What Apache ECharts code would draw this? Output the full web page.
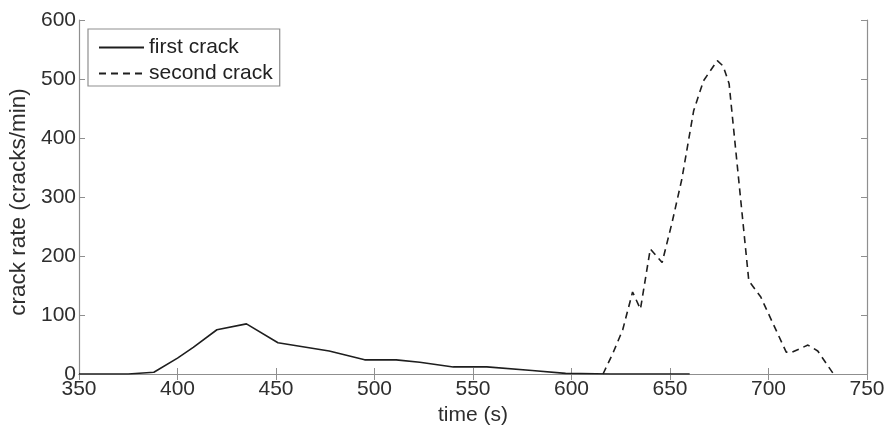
<!DOCTYPE html>
<html><head><meta charset="utf-8">
<script src="https://cdn.jsdelivr.net/npm/echarts@6/dist/echarts.min.js"></script>
<style>html,body{margin:0;padding:0;background:#fff}#c{width:887px;height:426px}</style>
</head><body><div id="c"></div>
<script>
const firstTime = [350, 375, 388, 400, 408, 420, 435, 451, 477, 495, 511, 523, 540, 557, 580, 597, 620, 660];
const firstRate = [0, 0, 3, 27, 45, 75, 85, 53, 39, 24, 24, 20, 12, 12, 6, 1, 0, 0];
const secondTime = [616, 621, 626, 631, 635, 640, 646, 651, 656, 662, 667, 674, 677, 680, 690, 696, 709, 712, 720, 725, 733];
const secondRate = [0, 35, 75, 139, 110, 212, 189, 256, 330, 446, 497, 531, 522, 492, 158, 131, 37, 37, 49, 39, 0];
const xTicks = [350, 400, 450, 500, 550, 600, 650, 700, 750];
const yTicks = [0, 100, 200, 300, 400, 500, 600];

const zip = (a, b) => a.map((v, i) => [v, b[i]]);
const axisColor = '#8f8f8f';
const textColor = '#2e2e2e';
const lineColor = '#1e1e1e';
const font = 'Liberation Sans, Arial, sans-serif';

const chart = echarts.init(document.getElementById('c'), null, {renderer: 'canvas'});
const baseX = {
  type: 'value', min: xTicks[0], max: xTicks[xTicks.length - 1], interval: 50,
  axisLine: {show: true, lineStyle: {color: axisColor, width: 1.2}},
  axisTick: {show: true, inside: true, length: 6, lineStyle: {color: axisColor}},
  splitLine: {show: false}
};
const baseY = {
  type: 'value', min: yTicks[0], max: yTicks[yTicks.length - 1], interval: 100,
  axisLine: {show: true, lineStyle: {color: axisColor, width: 1.2}},
  axisTick: {show: true, inside: true, length: 6, lineStyle: {color: axisColor}},
  splitLine: {show: false}
};
chart.setOption({
  animation: false,
  backgroundColor: '#fff',
  grid: {left: 79, right: 20, top: 20, bottom: 52, containLabel: false, outerBoundsMode: 'none'},
  legend: {
    left: 88, top: 29, orient: 'vertical',
    itemWidth: 45, itemHeight: 14, itemGap: 5,
    padding: [8, 7, 2, 10],
    borderColor: axisColor, borderWidth: 1.2, backgroundColor: '#fff',
    itemStyle: {opacity: 0},
    textStyle: {fontFamily: font, fontSize: 21, color: '#222', lineHeight: 21},
    data: [{name: 'first crack'}, {name: 'second crack'}]
  },
  xAxis: [
    Object.assign({}, baseX, {
      position: 'bottom', name: 'time (s)', nameLocation: 'middle', nameGap: 29,
      nameTextStyle: {fontFamily: font, fontSize: 21, color: textColor},
      axisLabel: {fontFamily: font, fontSize: 21, color: textColor, margin: 5}
    }),
    Object.assign({}, baseX, {position: 'top', axisLabel: {show: false}})
  ],
  yAxis: [
    Object.assign({}, baseY, {
      position: 'left', name: 'crack rate (cracks/min)', nameLocation: 'middle', nameGap: 42,
      nameTextStyle: {fontFamily: font, fontSize: 22.5, color: textColor, padding: [0, 10, 0, 0]},
      axisLabel: {fontFamily: font, fontSize: 21, color: textColor, margin: 3}
    }),
    Object.assign({}, baseY, {position: 'right', axisLabel: {show: false}})
  ],
  series: [
    {name: 'first crack', type: 'line', symbol: 'none', data: zip(firstTime, firstRate),
     lineStyle: {color: lineColor, width: 1.6, type: 'solid'}, itemStyle: {color: lineColor}, z: 3},
    {name: 'second crack', type: 'line', symbol: 'none', data: zip(secondTime, secondRate),
     lineStyle: {color: lineColor, width: 1.6, type: [7, 5]}, itemStyle: {color: lineColor}, z: 3}
  ]
});
</script></body></html>
